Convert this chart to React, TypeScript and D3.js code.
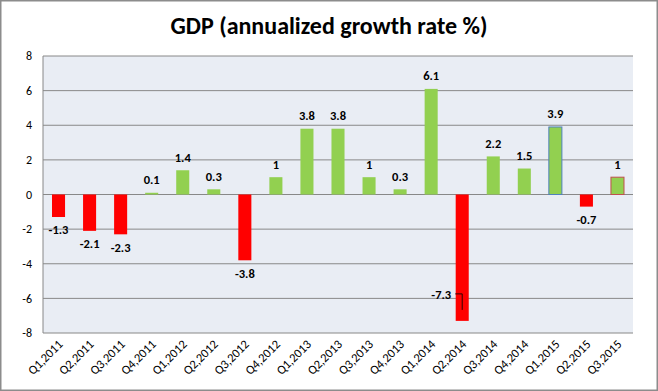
import React from 'react';
import * as d3 from 'd3';

const quarters = ['Q1,2011', 'Q2,2011', 'Q3,2011', 'Q4,2011', 'Q1,2012', 'Q2,2012', 'Q3,2012', 'Q4,2012',
    'Q1,2013', 'Q2,2013', 'Q3,2013', 'Q4,2013', 'Q1,2014', 'Q2,2014', 'Q3,2014', 'Q4,2014',
    'Q1,2015', 'Q2,2015', 'Q3,2015'];
const growth = [-1.3, -2.1, -2.3, 0.1, 1.4, 0.3, -3.8, 1, 3.8, 3.8, 1, 0.3, 6.1, -7.3, 2.2, 1.5, 3.9, -0.7, 1];
const yTicks = [-8, -6, -4, -2, 0, 2, 4, 6, 8];

const W = 658, H = 391;
const font = 'Calibri, Carlito, Lato, "Liberation Sans", Arial, sans-serif';

export default function App() {
    let margin = { top: 56, right: 25, bottom: 58, left: 43 },
        w = W - margin.left - margin.right,
        h = H - margin.top - margin.bottom;

    let x = d3.scaleBand().domain(quarters).range([0, w]).paddingInner(0.58).paddingOuter(0.29);
    let y = d3.scaleLinear().domain([-8, 8]).range([h, 0]);

    // outlined bars at the end of the series
    let outline = (i: number) => i === 16 ? '#4F81BD' : i === 18 ? '#C0504D' : 'none';

    return (
        <svg width={W} height={H} style={{ position: 'absolute', left: 0, top: 0 }} fontFamily={font}>
            <rect x={0.75} y={0.75} width={W - 1.5} height={H - 1.5} fill="#fff" stroke="#8c8c8c" strokeWidth={1.5} />
            <text x={W / 2} y={34} textAnchor="middle" fontSize={24} fontWeight="bold" fill="#000">
                GDP (annualized growth rate %)
            </text>
            <g transform={`translate(${margin.left},${margin.top})`}>
                <rect width={w} height={h} fill="#E9EDF4" />
                {yTicks.map(t => (
                    <g key={t}>
                        <line x1={0} x2={w} y1={y(t)} y2={y(t)} stroke="#888" strokeWidth={1} />
                        <text x={-11} y={y(t)} dy="0.35em" textAnchor="end" fontSize={12} fill="#000">{t}</text>
                    </g>
                ))}
                <line x1={0} x2={0} y1={0} y2={h} stroke="#888" />
                {growth.map((v, i) => {
                    let bx = x(quarters[i])!;
                    let top = y(Math.max(v, 0)), bot = y(Math.min(v, 0));
                    let cx = bx + x.bandwidth() / 2;
                    let big = v < -7;
                    return (
                        <g key={i}>
                            <rect x={bx} y={top} width={x.bandwidth()} height={bot - top}
                                fill={v < 0 ? '#FF0000' : '#92D050'}
                                stroke={outline(i)} strokeWidth={1} />
                            {big ? (
                                <g>
                                    <text x={cx - 11} y={bot - 26} dy="0.35em" textAnchor="end" fontSize={12.5} fontWeight="bold">{v}</text>
                                    <path d={`M${cx - 7},${bot - 27}H${cx}V${bot - 11}`} fill="none" stroke="#000" strokeWidth={0.8} />
                                </g>
                            ) : (
                                <text x={cx} y={v >= 0 ? top - 13 : bot + 13} dy="0.35em" textAnchor="middle"
                                    fontSize={12.5} fontWeight="bold">{v}</text>
                            )}
                        </g>
                    );
                })}
                {quarters.map(q => (
                    <text key={q} transform={`translate(${x(q)! + x.bandwidth() / 2 + 5},${h + 12}) rotate(-45)`}
                        textAnchor="end" fontSize={12.5} fill="#000">{q}</text>
                ))}
            </g>
        </svg>
    );
}
